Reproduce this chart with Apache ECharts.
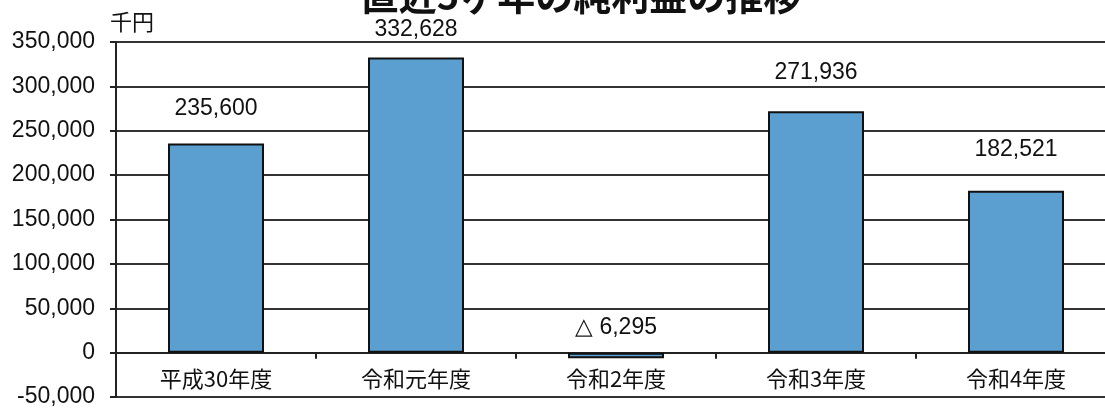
<!DOCTYPE html>
<html>
<head>
<meta charset="utf-8">
<script src="https://cdn.jsdelivr.net/npm/echarts@6/dist/echarts.min.js"></script>
<style>
  html, body { margin: 0; padding: 0; background: #fff; }
  #chart { width: 1105px; height: 408px; }
</style>
</head>
<body>
<div id="chart"></div>
<script>
// 直近5ヶ年の純利益（千円）
const categories = ['平成30年度', '令和元年度', '令和2年度', '令和3年度', '令和4年度'];
const profits = [235600, 332628, -6295, 271936, 182521];
const yTicks = [-50000, 350000, 50000]; // min, max, interval

// ラベルと棒の間隔（px、元の図に合わせて個別に）
const labelGaps = [23, 16, 13, 27, 29];

const jp = '"Noto Sans CJK JP", "Noto Sans", sans-serif';
const num = '"Liberation Sans", Arial, sans-serif';

const gridTop = 42, gridBottom = 11, H = 408;
// x軸を0の位置まで持ち上げる量
const zeroOffset = -(0 - yTicks[0]) / (yTicks[1] - yTicks[0]) * (H - gridTop - gridBottom);

function fmt(v) {
    // マイナスは△表記
    const s = Math.abs(v).toLocaleString('en-US');
    return v < 0 ? '△ ' + s : s;
}

const chart = echarts.init(document.getElementById('chart'));
chart.setOption({
    animation: false,
    title: {
        text: '直近5ヶ年の純利益の推移',
        left: 576,
        textAlign: 'center',
        top: -28,
        textStyle: { fontFamily: jp, fontSize: 38, fontWeight: 'bold', color: '#111' }
    },
    graphic: [{
        type: 'text',
        left: 110,
        top: 11,
        style: { text: '千円', font: '22px ' + jp, fill: '#111' }
    }],
    grid: { left: 116, top: gridTop, bottom: gridBottom, width: 1000, outerBoundsMode: 'none' },
    xAxis: {
        type: 'category',
        data: categories,
        offset: zeroOffset,
        axisLine: { onZero: false, lineStyle: { color: '#222', width: 2 } },
        axisTick: { show: true, length: 6, lineStyle: { color: '#222', width: 2 } },
        axisLabel: {
            fontFamily: jp, fontSize: 22, color: '#111', margin: 15
        }
    },
    yAxis: {
        type: 'value',
        min: yTicks[0],
        max: yTicks[1],
        interval: yTicks[2],
        axisLine: { show: true, lineStyle: { color: '#222', width: 2 } },
        axisTick: { show: true, length: 6, lineStyle: { color: '#222', width: 2 } },
        axisLabel: {
            fontFamily: num, fontSize: 23, color: '#111', margin: 21,
            formatter: v => v.toLocaleString('en-US')
        },
        splitLine: { lineStyle: { color: '#333', width: 2 } }
    },
    series: [{
        type: 'bar',
        data: profits.map((v, i) => ({
            value: v,
            label: { distance: labelGaps[i] }
        })),
        barWidth: '48%',
        itemStyle: { color: '#5a9fcf', borderColor: '#111', borderWidth: 2 },
        label: {
            show: true,
            position: 'top',
            fontFamily: num,
            fontSize: 23,
            color: '#111',
            formatter: p => fmt(p.value)
        }
    }]
});
</script>
</body>
</html>
